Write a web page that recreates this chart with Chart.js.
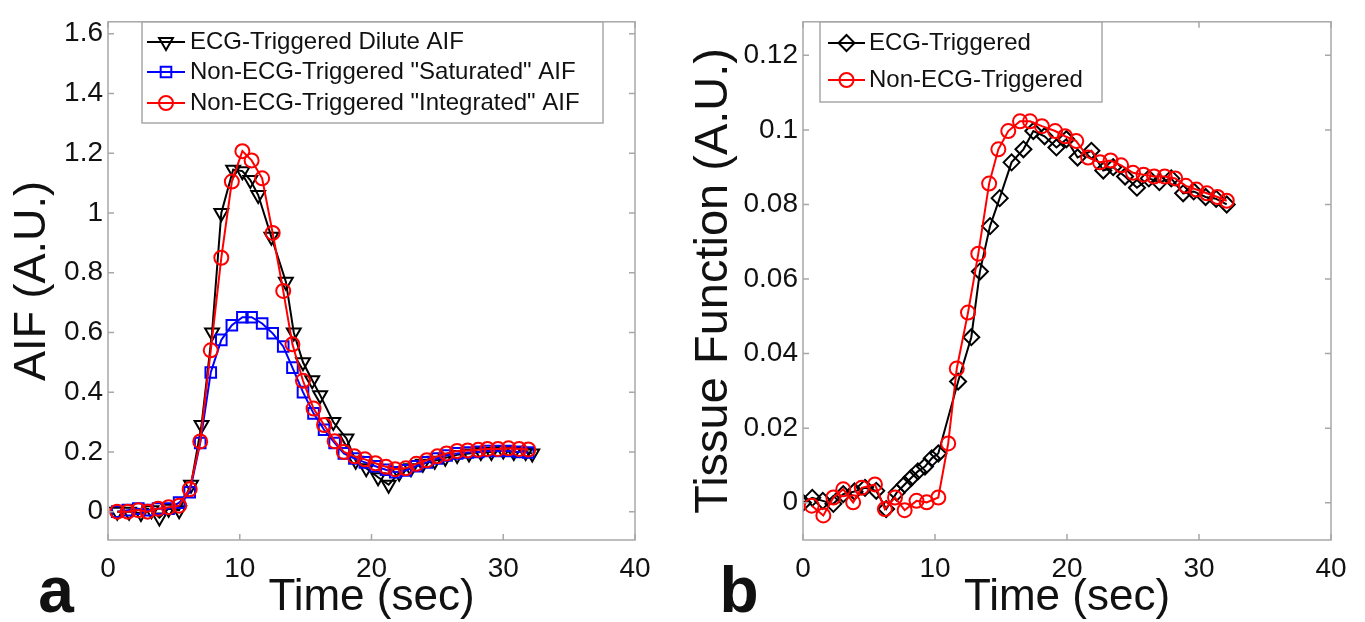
<!DOCTYPE html>
<html><head><meta charset="utf-8">
<script src="https://cdn.jsdelivr.net/npm/chart.js@4.4.0/dist/chart.umd.min.js"></script>
<style>
html,body{margin:0;padding:0;background:#fff;width:1365px;height:622px;overflow:hidden;}
#ca{position:absolute;left:0;top:0;}
#cb{position:absolute;left:683px;top:0;}
</style></head><body>
<canvas id="ca" width="683" height="622"></canvas>
<canvas id="cb" width="682" height="622"></canvas>
<script>
// ---------- DATA ----------
// Panel a: AIF
const timeEcgA = [0.7,1.6,2.5,3.3,3.9,4.6,5.4,6.3,7.1,7.9,8.6,9.5,10.2,10.8,11.4,12.4,13.5,14.1,14.8,15.5,16.1,17.1,18.1,18.8,19.6,20.5,21.3,22.1,23.0,23.9,24.8,25.6,26.5,27.4,28.3,29.1,30.0,30.8,31.7,32.2];
const aifEcgDilute = [0.0,0.0,-0.005,0.005,-0.02,0.01,0.005,0.09,0.29,0.60,1.0,1.145,1.14,1.11,1.06,0.92,0.77,0.60,0.50,0.44,0.39,0.30,0.245,0.17,0.145,0.115,0.09,0.13,0.145,0.16,0.17,0.18,0.19,0.195,0.2,0.2,0.205,0.2,0.2,0.195];
const timeNonA = [0.7,1.5,2.3,3.0,3.8,4.6,5.4,6.2,7.0,7.8,8.6,9.4,10.2,10.9,11.7,12.5,13.3,14.0,14.8,15.6,16.4,17.2,17.9,18.7,19.5,20.3,21.1,21.8,22.6,23.4,24.2,25.0,25.7,26.5,27.3,28.1,28.8,29.6,30.4,31.2,31.9];
const aifSaturated = [0.0,0.005,0.01,0.005,0.01,0.01,0.03,0.065,0.23,0.466,0.575,0.624,0.651,0.651,0.63,0.597,0.553,0.482,0.40,0.329,0.274,0.23,0.195,0.178,0.165,0.152,0.14,0.132,0.138,0.152,0.165,0.178,0.188,0.195,0.198,0.2,0.203,0.203,0.203,0.2,0.198];
const aifIntegrated = [0.0,0.0,0.005,0.0,0.01,0.015,0.02,0.075,0.235,0.54,0.85,1.105,1.207,1.176,1.116,0.933,0.739,0.56,0.438,0.345,0.29,0.236,0.2,0.185,0.175,0.162,0.15,0.142,0.145,0.16,0.172,0.185,0.195,0.203,0.205,0.207,0.21,0.21,0.212,0.21,0.208];
// Panel b: tissue function
const timeEcgB = [0.0,0.7,1.5,2.3,3.05,3.9,4.7,5.55,6.3,7.1,7.7,8.2,8.7,9.24,9.75,10.25,11.75,12.75,13.4,14.17,14.9,15.8,16.7,17.45,18.3,19.2,19.95,20.8,21.85,22.75,23.5,24.4,25.3,26.2,27.0,27.9,28.8,29.6,30.5,31.3,32.1];
const tissueEcg = [0.0,0.0013,0.0005,-0.0003,0.0023,0.003,0.004,0.0032,-0.0017,0.0027,0.0049,0.0067,0.0084,0.0097,0.0119,0.0132,0.0325,0.0444,0.062,0.0742,0.0817,0.0913,0.0948,0.0997,0.0983,0.0953,0.0975,0.0926,0.0944,0.0891,0.09,0.0875,0.0845,0.087,0.086,0.087,0.083,0.0835,0.082,0.0815,0.08];
const timeNonB = [0.66,1.54,2.3,3.05,3.8,4.45,5.45,6.2,6.97,7.7,8.6,9.37,10.25,11.0,11.65,12.5,13.28,14.1,14.8,15.55,16.44,17.2,18.1,19.1,19.85,20.7,21.6,22.5,23.3,24.1,25.0,25.8,26.6,27.4,28.2,29.0,29.8,30.6,31.4,32.1];
const tissueNon = [-0.0008,-0.0034,0.0014,0.0036,0.0001,0.004,0.0049,-0.0017,0.0014,-0.002,0.0005,0.0001,0.0014,0.0159,0.036,0.051,0.0668,0.0856,0.0948,0.0997,0.1023,0.1023,0.101,0.0997,0.0983,0.097,0.0926,0.0913,0.0918,0.0905,0.0885,0.088,0.0875,0.0875,0.087,0.085,0.084,0.083,0.082,0.081];
// Tick values
const xTicks = [0,10,20,30,40];
const yTicksA = [0,0.2,0.4,0.6,0.8,1.0,1.2,1.4,1.6];
const yTicksB = [0,0.02,0.04,0.06,0.08,0.1,0.12];
// Labels
const labelsA = ['ECG-Triggered Dilute AIF','Non-ECG-Triggered "Saturated" AIF','Non-ECG-Triggered "Integrated" AIF'];
const labelsB = ['ECG-Triggered','Non-ECG-Triggered'];

// ---------- RENDERING ----------
const FONT = "'Liberation Sans', Arial, Helvetica, sans-serif";
const AXIS_GRAY = '#a8a8a8';
const pts = (xs, ys) => xs.map((x, i) => ({x, y: ys[i]}));
const fmt = v => String(Number(v.toFixed(4)));

const frameBoxPlugin = {
  id: 'matlabFrame',
  afterDraw(chart, args, opts) {
    const ctx = chart.ctx, a = chart.chartArea;
    const xs = chart.scales.x, ys = chart.scales.y;
    ctx.save();
    ctx.strokeStyle = AXIS_GRAY; ctx.lineWidth = 1.5;
    ctx.strokeRect(a.left, a.top, a.right - a.left, a.bottom - a.top);
    const tl = 6;
    ctx.beginPath();
    xs.ticks.forEach(t => {
      const px = xs.getPixelForValue(t.value);
      ctx.moveTo(px, a.bottom); ctx.lineTo(px, a.bottom - tl);
      ctx.moveTo(px, a.top); ctx.lineTo(px, a.top + tl);
    });
    ys.ticks.forEach(t => {
      const py = ys.getPixelForValue(t.value);
      ctx.moveTo(a.left, py); ctx.lineTo(a.left + tl, py);
      ctx.moveTo(a.right, py); ctx.lineTo(a.right - tl, py);
    });
    ctx.stroke();
    // legend
    const L = opts.legend;
    ctx.fillStyle = '#fff';
    ctx.fillRect(L.x, L.y, L.w, L.h);
    ctx.strokeStyle = AXIS_GRAY; ctx.lineWidth = 1.5;
    ctx.strokeRect(L.x, L.y, L.w, L.h);
    ctx.font = '24px ' + FONT;
    ctx.textBaseline = 'middle'; ctx.textAlign = 'left';
    chart.data.datasets.forEach((ds, i) => {
      const ry = L.rows[i];
      ctx.strokeStyle = ds.borderColor; ctx.lineWidth = ds.borderWidth;
      ctx.beginPath(); ctx.moveTo(L.lineX0, ry); ctx.lineTo(L.lineX1, ry); ctx.stroke();
      ctx.fillStyle = 'rgba(0,0,0,0)';
      ctx.strokeStyle = ds.pointBorderColor; ctx.lineWidth = ds.pointBorderWidth;
      Chart.helpers.drawPoint(ctx, {pointStyle: ds.pointStyle, rotation: ds.pointRotation || 0, radius: ds.pointRadius, borderWidth: ds.pointBorderWidth}, (L.lineX0 + L.lineX1) / 2, ry);
      ctx.fillStyle = '#111';
      ctx.fillText(ds.label, L.textX, ry);
    });
    // panel letter
    ctx.fillStyle = '#111';
    ctx.font = 'bold 64px ' + FONT;
    ctx.textAlign = 'center'; ctx.textBaseline = 'alphabetic';
    ctx.fillText(opts.letter.text, opts.letter.x, opts.letter.y);
    ctx.restore();
  }
};

function ds(label, data, color, style, radius, rot, order) {
  return {label, data, borderColor: color, borderWidth: 2, pointStyle: style, pointRadius: radius,
    pointRotation: rot, pointBorderColor: color, pointBorderWidth: 2, pointBackgroundColor: 'rgba(0,0,0,0)',
    pointHoverRadius: radius, showLine: true, fill: false, tension: 0, order};
}

function scaleX() {
  return {
    type: 'linear', min: 0, max: 40, position: 'bottom',
    grid: {display: false, drawTicks: false}, border: {display: false},
    afterBuildTicks: s => { s.ticks = xTicks.map(v => ({value: v})); },
    afterFit: s => { s.height = 82; },
    ticks: {font: {family: FONT, size: 28}, color: '#111', padding: 12, maxRotation: 0, autoSkip: false, callback: v => fmt(v)},
    title: {display: true, text: 'Time (sec)', font: {family: FONT, size: 44}, color: '#111', padding: {top: 0, bottom: -2}}
  };
}
function scaleY(min, max, ticks, width, title, tsize, tpad) {
  return {
    type: 'linear', min, max,
    grid: {display: false, drawTicks: false}, border: {display: false},
    afterBuildTicks: s => { s.ticks = ticks.map(v => ({value: v})); },
    afterFit: s => { s.width = width; },
    ticks: {font: {family: FONT, size: 28}, color: '#111', padding: 5, autoSkip: false, callback: v => fmt(v)},
    title: {display: true, text: title, font: {family: FONT, size: tsize}, color: '#111', padding: {top: tpad, bottom: 0}}
  };
}

new Chart(document.getElementById('ca'), {
  type: 'scatter',
  data: {datasets: [
    ds(labelsA[0], pts(timeEcgA, aifEcgDilute), '#000000', 'triangle', 8, 180, 2),
    ds(labelsA[1], pts(timeNonA, aifSaturated), '#0000ff', 'rect', 7.5, 0, 1),
    ds(labelsA[2], pts(timeNonA, aifIntegrated), '#ff0000', 'circle', 7, 0, 0)
  ]},
  options: {
    responsive: false, animation: false, devicePixelRatio: 1,
    layout: {padding: {left: 0, right: 48, top: 12, bottom: 0}},
    scales: {x: scaleX(), y: scaleY(-0.095, 1.64, yTicksA, 108, 'AIF (A.U.)', 45, 6)},
    plugins: {legend: {display: false}, tooltip: {enabled: false},
      matlabFrame: {legend: {x: 142, y: 22, w: 461, h: 101, rows: [42, 72, 103], lineX0: 147, lineX1: 185, textX: 190},
        letter: {text: 'a', x: 56, y: 612}}}
  },
  plugins: [frameBoxPlugin]
});

new Chart(document.getElementById('cb'), {
  type: 'scatter',
  data: {datasets: [
    ds(labelsB[0], pts(timeEcgB, tissueEcg), '#000000', 'rectRot', 8, 0, 1),
    ds(labelsB[1], pts(timeNonB, tissueNon), '#ff0000', 'circle', 7, 0, 0)
  ]},
  options: {
    responsive: false, animation: false, devicePixelRatio: 1,
    layout: {padding: {left: 0, right: 34, top: 12, bottom: 0}},
    scales: {x: scaleX(), y: scaleY(-0.01, 0.129, yTicksB, 120, 'Tissue Function (A.U.)', 47, 3)},
    plugins: {legend: {display: false}, tooltip: {enabled: false},
      matlabFrame: {legend: {x: 137, y: 22, w: 282, h: 80, rows: [43, 80], lineX0: 145, lineX1: 182, textX: 186},
        letter: {text: 'b', x: 56, y: 612}}}
  },
  plugins: [frameBoxPlugin]
});
</script>
</body></html>
